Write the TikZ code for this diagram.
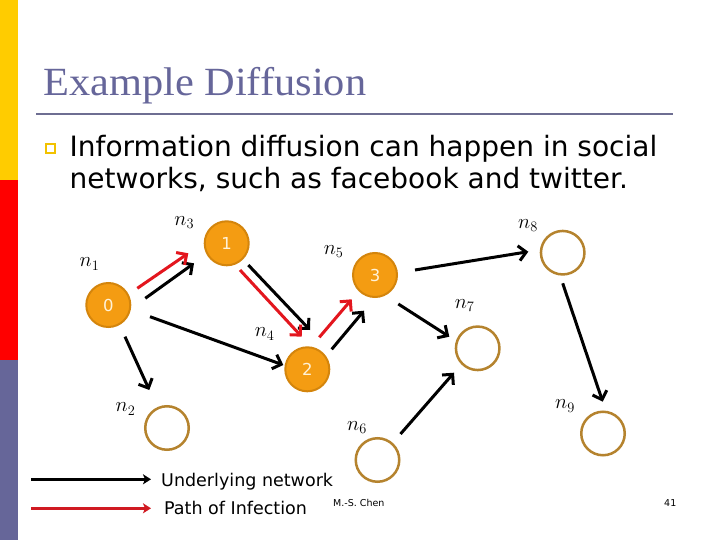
\documentclass[tikz,border=0pt]{standalone}
\usepackage{fontspec}
\setmainfont{DejaVu Sans}
\newfontfamily\titlefont[FakeStretch=1.06]{Liberation Serif}
\usetikzlibrary{arrows.meta}
\definecolor{barYellow}{HTML}{FFCC00}
\definecolor{barRed}{HTML}{FF0000}
\definecolor{barPurple}{HTML}{666699}
\definecolor{titleColor}{HTML}{66669A}
\definecolor{ruleColor}{HTML}{6E6E92}
\definecolor{bulletColor}{HTML}{F2C200}
\definecolor{orangeFill}{HTML}{F49C12}
\definecolor{orangeBorder}{HTML}{D4850C}
\definecolor{emptyBorder}{HTML}{B5832E}
\definecolor{nodeText}{HTML}{FFF2D8}
\definecolor{infRed}{HTML}{E3161E}
\definecolor{legRed}{HTML}{D01A22}
\begin{document}
\begin{tikzpicture}[x=1pt,y=-1pt,
  onode/.style={circle, draw=orangeBorder, fill=orangeFill, line width=2pt, minimum size=44pt, inner sep=0pt, text=nodeText, font=\fontsize{16.5}{16.5}\selectfont},
  enode/.style={circle, draw=emptyBorder, fill=white, line width=2.5pt, minimum size=43.5pt, inner sep=0pt},
  lbl/.style={inner sep=0pt, font=\fontsize{19.5}{19.5}\selectfont},
  net/.style={line width=3pt, draw=black, -{Straight Barb[length=7.5pt,width=15pt]}},
  inf/.style={net, draw=infRed},
  legnet/.style={line width=3pt, -{Stealth[length=8pt,width=10pt,inset=2pt]}},
  bodytext/.style={inner sep=0pt, anchor=base west, font=\fontsize{28}{33}\selectfont},
  legtext/.style={inner sep=0pt, anchor=base west, font=\fontsize{17.5}{20}\selectfont},
  foot/.style={inner sep=0pt, anchor=base west, font=\fontsize{9.5}{11}\selectfont}
]
\useasboundingbox (0,0) rectangle (720,540);
\fill[white] (0,0) rectangle (720,540);
% left bar
\fill[barYellow] (0,0) rectangle (18,180);
\fill[barRed] (0,180) rectangle (18,360);
\fill[barPurple] (0,360) rectangle (18,540);
% title
\node[inner sep=0pt, anchor=base west, text=titleColor, font=\titlefont\fontsize{40}{40}\selectfont] (title) at (43,96) {Example Diffusion};
\draw[ruleColor, line width=2pt] (36,114) -- (673,114);
% bullet
\draw[bulletColor, line width=2.4pt] (46,144) rectangle (55,153);
\node[bodytext] (line1) at (69.5,156.7) {Information diffusion can happen in social};
\node[bodytext] (line2) at (69.5,188.5) {networks, such as facebook and twitter.};
% nodes
\node[onode] (n1) at (108.3,305) {0};
\node[onode] (n3) at (226.7,243.3) {1};
\node[onode] (n5) at (375,275) {3};
\node[onode] (n4) at (307.3,369.3) {2};
\node[enode] (n8) at (562.7,252.7) {};
\node[enode] (n7) at (477.7,348.3) {};
\node[enode] (n9) at (603,433.5) {};
\node[enode] (n2) at (167,428) {};
\node[enode] (n6) at (377.5,460) {};
% labels
\node[lbl] (l1) at (89.5,264) {$n_1$};
\node[lbl] (l3) at (184.3,222.3) {$n_3$};
\node[lbl] (l5) at (333.7,251.7) {$n_5$};
\node[lbl] (l4) at (264.7,334) {$n_4$};
\node[lbl] (l8) at (528,225.7) {$n_8$};
\node[lbl] (l7) at (464.7,305.7) {$n_7$};
\node[lbl] (l9) at (565,406) {$n_9$};
\node[lbl] (l2) at (125.5,409) {$n_2$};
\node[lbl] (l6) at (357,427.5) {$n_6$};
% arrow end points
\coordinate (a1s) at (145.3,298.3); \coordinate (a1e) at (194,263.3);
\coordinate (a2s) at (248.3,265);   \coordinate (a2e) at (310,330);
\coordinate (a3s) at (150,316.7);   \coordinate (a3e) at (283.3,365);
\coordinate (a4s) at (125,336.7);   \coordinate (a4e) at (149.3,390);
\coordinate (a5s) at (331.7,349.3); \coordinate (a5e) at (364,310.7);
\coordinate (a6s) at (415,270);     \coordinate (a6e) at (528.3,251.7);
\coordinate (a7s) at (398.3,304);   \coordinate (a7e) at (449.3,336.7);
\coordinate (a8s) at (400.5,434);   \coordinate (a8e) at (454,372.7);
\coordinate (a9s) at (562.7,283.3); \coordinate (a9e) at (602.7,401.7);
\coordinate (r1s) at (137.3,288.3); \coordinate (r1e) at (188.3,253.3);
\coordinate (r2s) at (240,270);     \coordinate (r2e) at (301.7,336.7);
\coordinate (r3s) at (319.3,337.3); \coordinate (r3e) at (351.7,299.3);
% underlying network
\draw[net] (a1s) -- (a1e);
\draw[net] (a2s) -- (a2e);
\draw[net] (a3s) -- (a3e);
\draw[net] (a4s) -- (a4e);
\draw[net] (a5s) -- (a5e);
\draw[net] (a6s) -- (a6e);
\draw[net] (a7s) -- (a7e);
\draw[net] (a8s) -- (a8e);
\draw[net] (a9s) -- (a9e);
% path of infection
\draw[inf] (r1s) -- (r1e);
\draw[inf] (r2s) -- (r2e);
\draw[inf] (r3s) -- (r3e);
% legend
\coordinate (k1s) at (31,479.3); \coordinate (k1e) at (151,479.3);
\coordinate (k2s) at (31,508.3); \coordinate (k2e) at (151,508.3);
\draw[legnet, draw=black, fill=black] (k1s) -- (k1e);
\draw[legnet, draw=legRed, fill=legRed] (k2s) -- (k2e);
\node[legtext] (t1) at (161,486) {Underlying network};
\node[legtext] (t2) at (164,514.5) {Path of Infection};
% footer
\node[foot] (author) at (333,506) {M.-S. Chen};
\node[foot] (page) at (664,506) {41};
\end{tikzpicture}
\end{document}
